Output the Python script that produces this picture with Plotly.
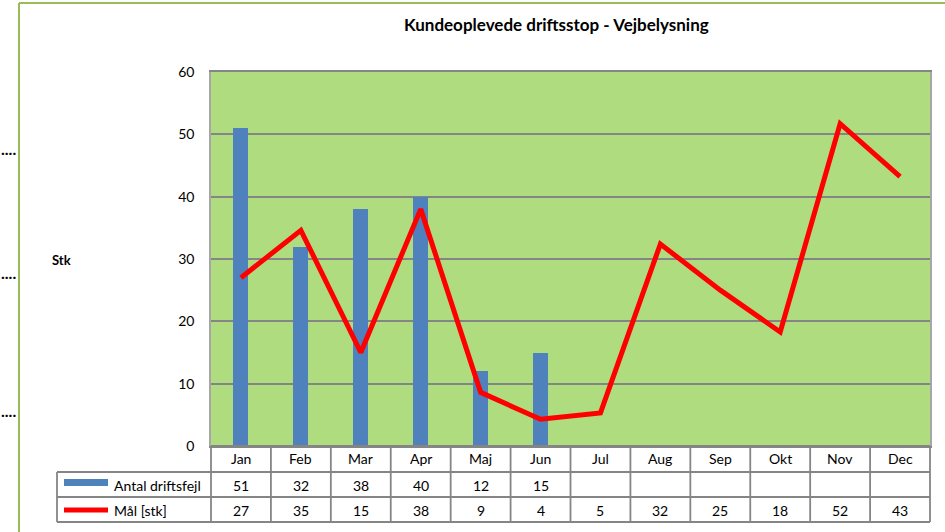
import math
import plotly.graph_objects as go

months = ["Jan", "Feb", "Mar", "Apr", "Maj", "Jun", "Jul", "Aug", "Sep", "Okt", "Nov", "Dec"]
antal_driftsfejl = [51, 32, 38, 40, 12, 15, None, None, None, None, None, None]
maal_stk = [27, 34.6, 15, 38, 8.6, 4.3, 5.3, 32.4, 25, 18.3, 51.7, 43.2]
series_names = ["Antal driftsfejl", "Mål [stk]"]
y_ticks = [0, 10, 20, 30, 40, 50, 60]
title_text = "Kundeoplevede driftsstop - Vejbelysning"
y_label = "Stk"

W, H = 945, 532
L, R, T, B = 211, 930, 72, 446
FONT = "Lato"

def px(x):
    return (x - L) / (R - L)

def py(y):
    return (B - y) / (B - T)

def fmt(v):
    if v is None:
        return ""
    return str(int(math.floor(v + 0.5)))

fig = go.Figure()
fig.add_trace(go.Bar(x=list(range(12)), y=antal_driftsfejl, name=series_names[0],
                     marker=dict(color="#4F81BD", line=dict(width=0)), width=0.25))
fig.add_trace(go.Scatter(x=list(range(12)), y=maal_stk, name=series_names[1], mode="lines",
                         line=dict(color="#FF0000", width=5)))

shapes = []
ann = []
grid = "#858585"
# outer green border
shapes.append(dict(type="line", xref="paper", yref="paper", x0=px(19), x1=px(945), y0=py(3), y1=py(3),
                   line=dict(color="#9BBB59", width=2)))
shapes.append(dict(type="line", xref="paper", yref="paper", x0=px(19), x1=px(19), y0=py(3), y1=py(532),
                   line=dict(color="#9BBB59", width=2)))
# table horizontal lines
for yy, x0 in [(446, L), (472, 57), (497, 57), (522, 57)]:
    shapes.append(dict(type="line", xref="paper", yref="paper", x0=px(x0), x1=px(R), y0=py(yy), y1=py(yy),
                       line=dict(color=grid, width=1.8)))
# vertical lines
shapes.append(dict(type="line", xref="paper", yref="paper", x0=px(57), x1=px(57), y0=py(472), y1=py(522),
                   line=dict(color=grid, width=1.8)))
for i in range(13):
    xx = L + i * (R - L) / 12
    shapes.append(dict(type="line", xref="paper", yref="paper", x0=px(xx), x1=px(xx), y0=py(446), y1=py(522),
                       line=dict(color=grid, width=1.8)))
# legend keys
shapes.append(dict(type="rect", xref="paper", yref="paper", x0=px(64), x1=px(108), y0=py(479), y1=py(486),
                   fillcolor="#4F81BD", line=dict(width=0)))
shapes.append(dict(type="line", xref="paper", yref="paper", x0=px(64), x1=px(108), y0=py(510), y1=py(510),
                   line=dict(color="#FF0000", width=5)))

def add_text(text, x, y, size=14, xanchor="center"):
    ann.append(dict(text=text, x=px(x), y=py(y), xref="paper", yref="paper", showarrow=False,
                    xanchor=xanchor, yanchor="middle",
                    font=dict(size=size, color="#000000", family=FONT)))

for i, m in enumerate(months):
    xc = L + (i + 0.5) * (R - L) / 12
    add_text(m, xc, 459)
    add_text(fmt(antal_driftsfejl[i]), xc, 485)
    add_text(fmt(maal_stk[i]), xc, 510)
add_text(series_names[0], 112, 485, xanchor="left")
add_text(series_names[1], 112, 510, xanchor="left")
add_text("<b>" + y_label + "</b>", 61, 260, size=13)
add_text("<b>" + title_text + "</b>", 556, 25, size=17)
for yy in [148, 272, 410]:
    add_text("<b>....</b>", -1, yy, size=16, xanchor="left")

fig.update_layout(
    width=W, height=H,
    margin=dict(l=L, r=W - R, t=T, b=H - B, pad=0),
    paper_bgcolor="#FFFFFF", plot_bgcolor="#B0DC80",
    showlegend=False,
    font=dict(family=FONT, size=14, color="#000000"),
    shapes=shapes, annotations=ann,
    xaxis=dict(range=[-0.5, 11.5], showticklabels=False, showgrid=False, zeroline=False,
               showline=True, linecolor=grid, linewidth=1.5, mirror=True, fixedrange=True),
    yaxis=dict(range=[0, 60], tickvals=y_ticks, showgrid=True, gridcolor=grid, gridwidth=1.5,
               zeroline=False, showline=True, linecolor="#A6A6A6", linewidth=1.5, mirror=True,
               ticks="", ticklabelstandoff=12, tickfont=dict(size=14, family=FONT)),
    bargap=0,
)
fig.write_html("out.html", config={"displayModeBar": False},
               post_script="document.body.style.margin='0';document.body.style.overflow='hidden';")
